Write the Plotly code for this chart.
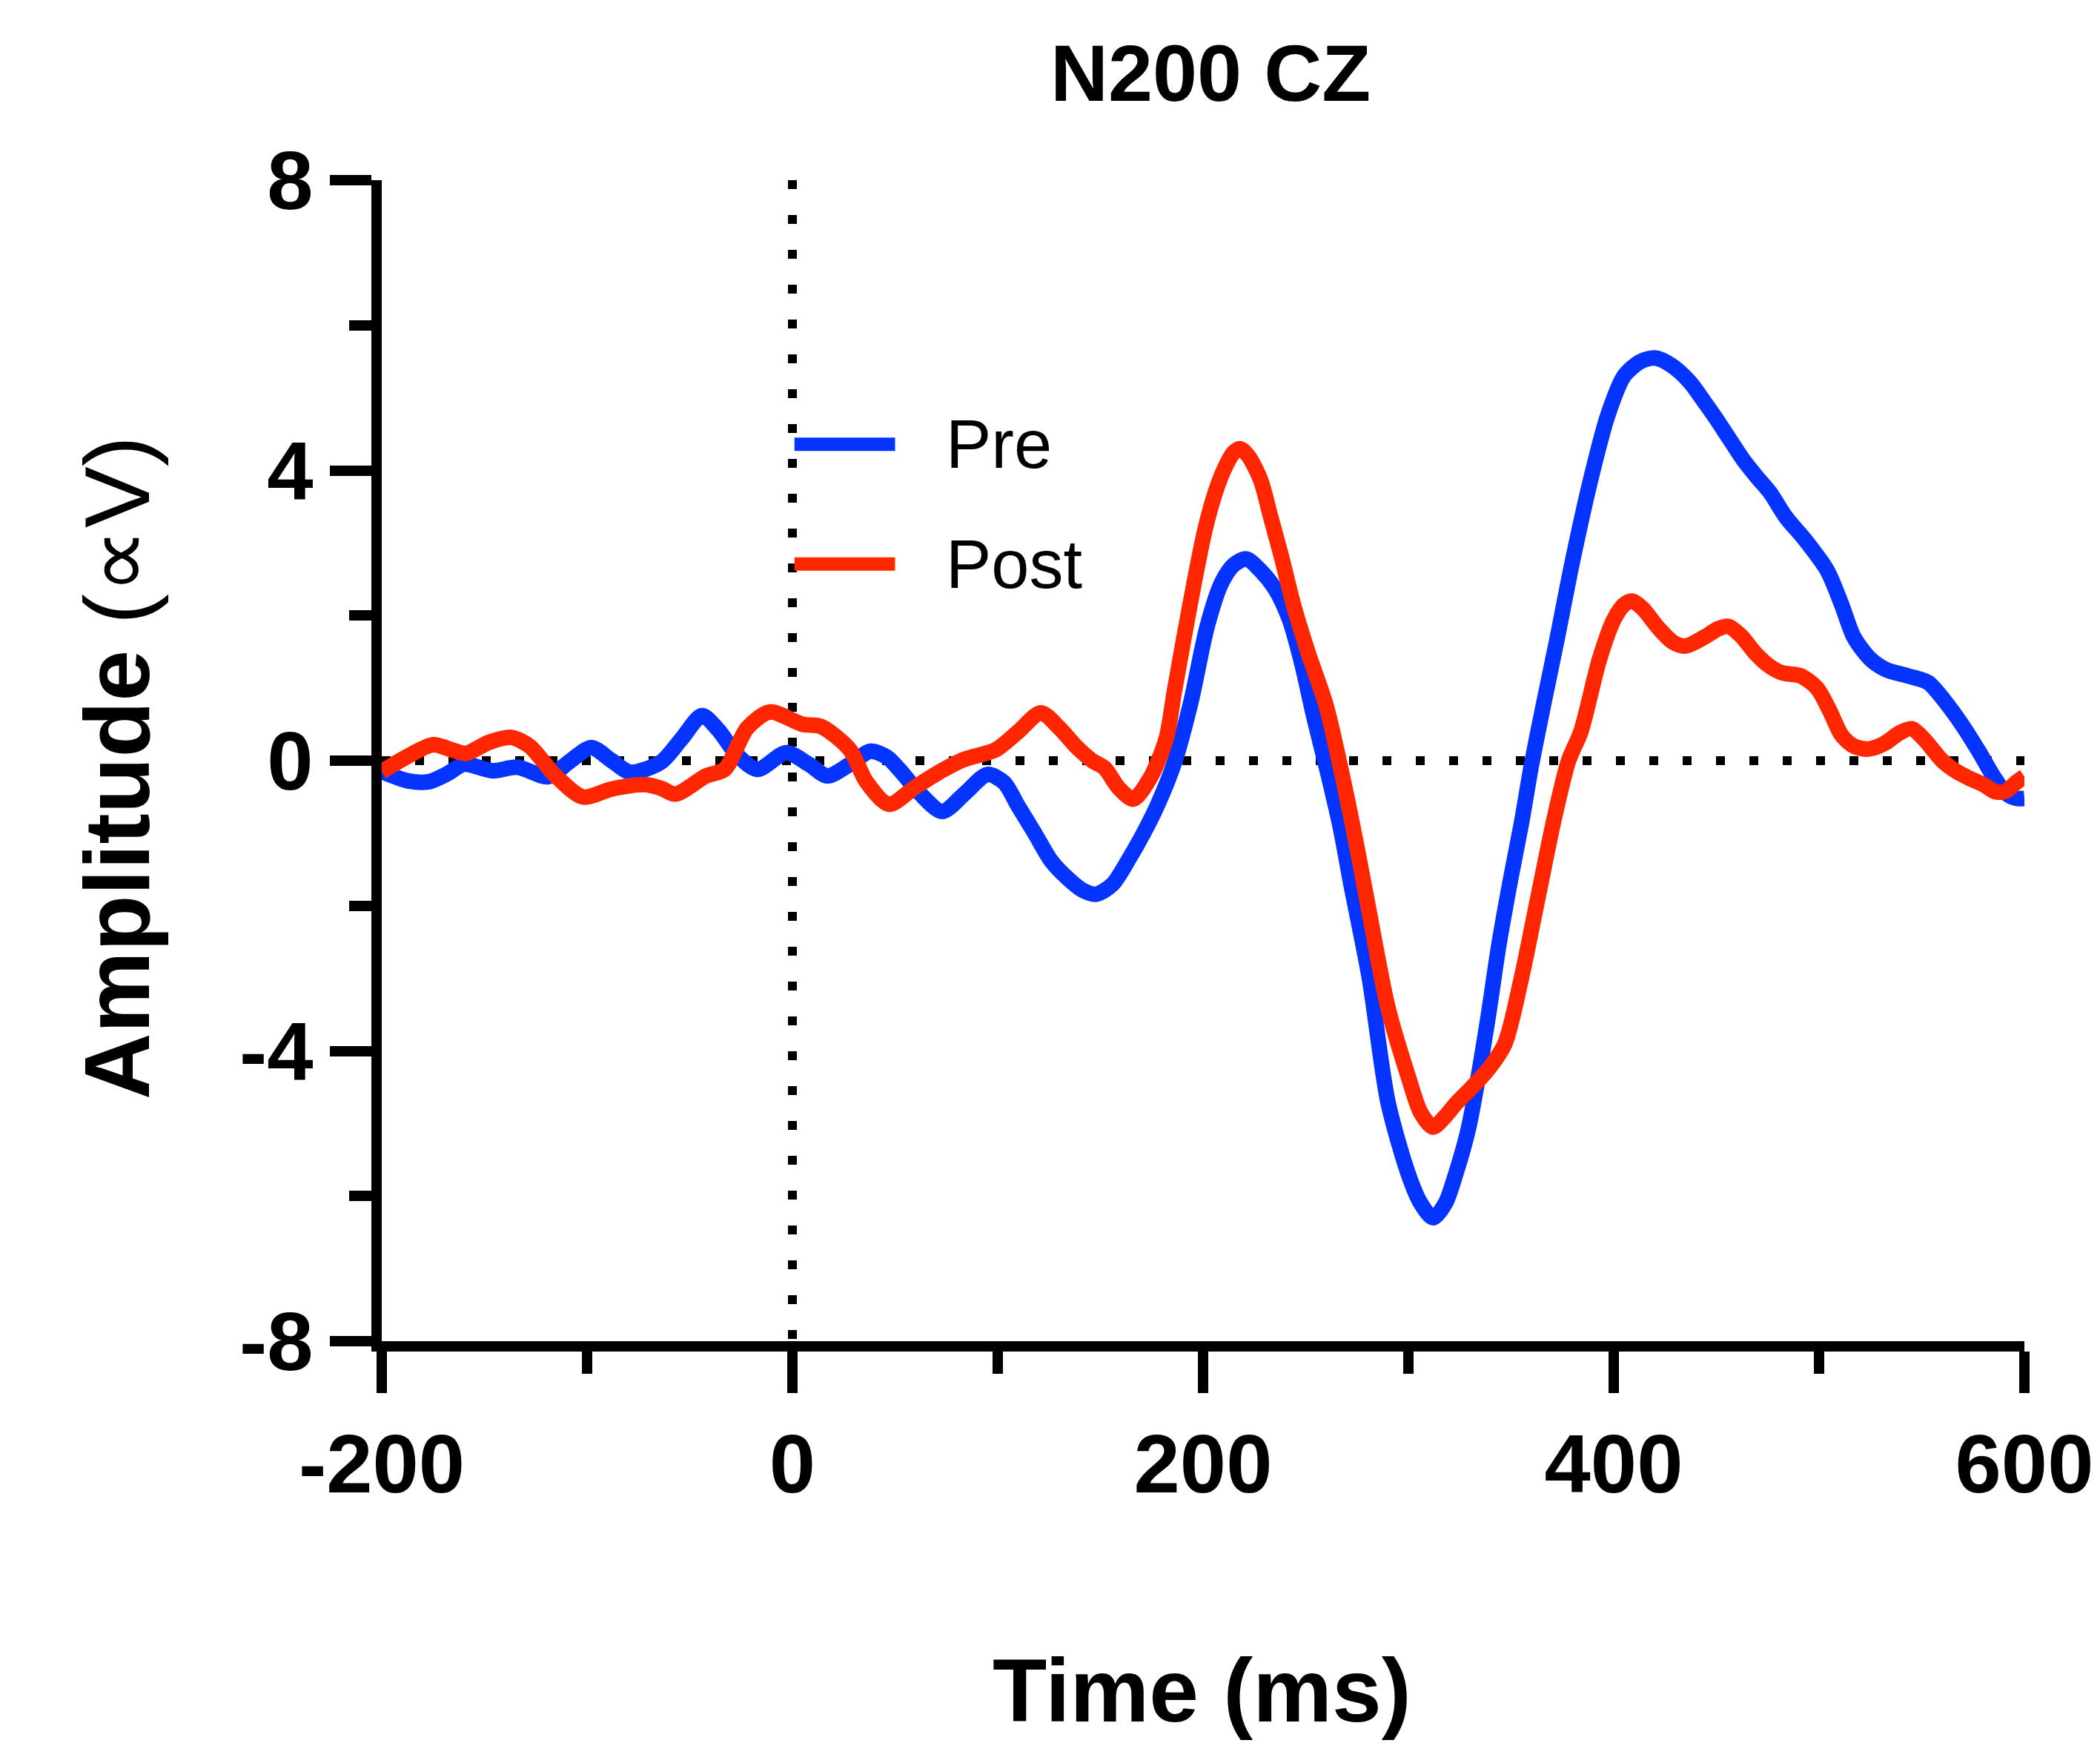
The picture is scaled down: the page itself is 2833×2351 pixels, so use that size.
import plotly.graph_objects as go

# ---------------- data ----------------
pre_t = [-200, -187, -177, -168, -160, -146, -134, -119, -108, -98, -88, -79, -64, -54, -44,
         -36, -27, -17, -3, 8, 17, 28, 38, 46, 52, 62, 73, 84, 95, 103, 110, 118, 126, 134,
         141, 148, 156, 164, 171, 178, 186, 194, 202, 209, 215, 221, 228, 235, 242, 248, 254,
         261, 267, 272, 281, 290, 300, 306, 312, 318, 323, 329, 334, 339, 344, 350, 355, 360,
         366, 372, 380, 389, 397, 405, 413, 420, 428, 437, 444, 449, 456, 463, 470, 476, 484,
         493, 504, 511, 517, 525, 533, 543, 553, 561, 570, 578, 585, 591, 596, 600]
pre_v = [-0.15, -0.28, -0.29, -0.18, -0.05, -0.14, -0.09, -0.22, 0.0, 0.18, 0.0, -0.16, -0.02,
         0.3, 0.62, 0.42, 0.08, -0.12, 0.11, -0.05, -0.21, -0.05, 0.13, 0.05, -0.12, -0.45,
         -0.7, -0.45, -0.19, -0.3, -0.63, -1.0, -1.38, -1.62, -1.78, -1.84, -1.7, -1.35, -1.0,
         -0.6, -0.03, 0.8, 1.85, 2.45, 2.7, 2.78, 2.62, 2.37, 1.95, 1.35, 0.6, -0.2, -0.94, -1.7,
         -3.0, -4.7, -5.7, -6.1, -6.3, -6.1, -5.7, -5.1, -4.36, -3.5, -2.55, -1.6, -0.87, -0.05,
         0.8, 1.62, 2.76, 3.9, 4.75, 5.3, 5.5, 5.55, 5.45, 5.22, 4.95, 4.75, 4.45, 4.15, 3.9,
         3.7, 3.35, 3.05, 2.62, 2.15, 1.7, 1.4, 1.25, 1.17, 1.08, 0.83, 0.48, 0.12, -0.22,
         -0.45, -0.52, -0.52]

post_t = [-200, -188, -175, -166, -159, -148, -137, -128, -116, -102, -88, -72, -64, -57, -42,
          -33, -22, -11, 5, 14, 28, 36, 47, 60, 72, 83, 99, 110, 121, 130, 138, 146, 152, 159,
          166, 174, 182, 186, 191, 196, 201, 206, 211, 215, 218, 222, 228, 233, 238, 244, 251,
          260, 270, 276, 281, 290, 300, 306, 312, 318, 323, 331, 339, 347, 355, 363, 371,
          378, 384, 393, 400, 405, 409, 414, 422, 429, 435, 444, 451, 456, 462, 469, 476, 482,
          491, 499, 505, 511, 517, 524, 532, 539, 545, 551, 560, 567, 573, 580, 586, 591, 596, 600]
post_v = [-0.15, 0.05, 0.22, 0.15, 0.1, 0.25, 0.32, 0.2, -0.19, -0.5, -0.39, -0.33, -0.38, -0.46,
          -0.21, -0.12, 0.45, 0.67, 0.5, 0.47, 0.15, -0.29, -0.6, -0.36, -0.15, 0.01, 0.15, 0.4,
          0.66, 0.45, 0.2, 0.0, -0.1, -0.38, -0.53, -0.25, 0.3, 0.95, 1.74, 2.5, 3.19, 3.7, 4.06,
          4.25, 4.3, 4.2, 3.87, 3.35, 2.83, 2.15, 1.5, 0.75, -0.5, -1.35, -2.1, -3.4,
          -4.36, -4.85, -5.05, -4.9, -4.73, -4.5, -4.25, -3.9, -3.0, -1.9, -0.8, 0.0, 0.4, 1.39,
          1.94, 2.15, 2.2, 2.1, 1.82, 1.63, 1.58, 1.7, 1.82, 1.85, 1.72, 1.48, 1.3, 1.21, 1.17,
          1.0, 0.7, 0.35, 0.2, 0.16, 0.24, 0.38, 0.44, 0.3, 0.0, -0.15, -0.24, -0.33, -0.43,
          -0.42, -0.3, -0.22]

series_names = ["Pre", "Post"]
series_colors = ["#0533FF", "#FF2600"]

x_tickvals = [-200, 0, 200, 400, 600]
x_ticktext = ["-200", "0", "200", "400", "600"]
x_minor = [-100, 100, 300, 500]
y_tickvals = [-8, -4, 0, 4, 8]
y_ticktext = ["-8", "-4", "0", "4", "8"]
y_minor = [-6, -2, 2, 6]

title_text = "N200 CZ"
x_title = "Time (ms)"
y_title = "<b>Amplitude </b>(∝V)"

# ---------------- figure ----------------
# the page body has an 8px margin, so the figure is laid out 8px smaller
OFF = 8
W, H = 2833 - OFF, 2351 - OFF
L, R, T, B = 507, 102, 235, 542
FONT = "Liberation Sans, Arial, sans-serif"

fig = go.Figure()
for t, v, name, col in [(pre_t, pre_v, series_names[0], series_colors[0]),
                        (post_t, post_v, series_names[1], series_colors[1])]:
    fig.add_trace(go.Scatter(x=t, y=v, mode="lines", name=name,
                             line=dict(color=col, width=21, shape="spline", smoothing=0.8),
                             showlegend=False))

# dotted reference lines
fig.add_shape(type="line", xref="x", yref="y", x0=-200, x1=600, y0=0, y1=0,
              line=dict(color="black", width=12, dash="12px,33px"), layer="below")
fig.add_shape(type="line", xref="x", yref="y", x0=0, x1=0, y0=8, y1=-8,
              line=dict(color="black", width=12, dash="12px,35px"), layer="below")

# custom legend (long line samples like the reference)
leg_y = [4.36, 2.71]
for yy, name, col in zip(leg_y, series_names, series_colors):
    fig.add_shape(type="line", xref="x", yref="y", x0=1, x1=50, y0=yy, y1=yy,
                  line=dict(color=col, width=18))
    fig.add_annotation(x=74, y=yy, xref="x", yref="y", text=name, showarrow=False,
                       xanchor="left", yanchor="middle",
                       font=dict(family=FONT, size=92, color="black"))

axis_common = dict(showline=True, linewidth=14, linecolor="black", mirror=False,
                   ticks="outside", ticklen=56, tickwidth=14, tickcolor="black",
                   showgrid=False, zeroline=False,
                   tickfont=dict(family=FONT, size=112, color="black", weight="bold"))

fig.update_xaxes(range=[-200, 600], tickmode="array", tickvals=x_tickvals, ticktext=x_ticktext,
                 minor=dict(tickmode="array", tickvals=x_minor, ticks="outside", ticklen=30,
                            tickwidth=14, tickcolor="black", showgrid=False),
                 **axis_common)
fig.update_yaxes(range=[-8, 8], tickmode="array", tickvals=y_tickvals, ticktext=y_ticktext,
                 minor=dict(tickmode="array", tickvals=y_minor, ticks="outside", ticklen=30,
                            tickwidth=14, tickcolor="black", showgrid=False),
                 **axis_common)

pw, ph = W - L - R, H - T - B
def px(xfig):
    return (xfig - L) / pw
def py(yfig):
    return ((T + ph) - yfig) / ph

fig.add_annotation(xref="paper", yref="paper", x=px(1625), y=py(91),
                   text=f"<b>{title_text}</b>", showarrow=False, xanchor="center", yanchor="middle",
                   font=dict(family=FONT, size=108, color="black"))
fig.add_annotation(xref="paper", yref="paper", x=px(1613), y=py(2272),
                   text=f"<b>{x_title}</b>", showarrow=False, xanchor="center", yanchor="middle",
                   font=dict(family=FONT, size=120, color="black"))
fig.add_annotation(xref="paper", yref="paper", x=px(150), y=py(1027),
                   text=y_title, showarrow=False, xanchor="center", yanchor="middle", textangle=-90,
                   font=dict(family=FONT, size=124, color="black"))

fig.update_layout(width=W, height=H, margin=dict(l=L, r=R, t=T, b=B, autoexpand=False),
                  paper_bgcolor="white", plot_bgcolor="white", showlegend=False)

fig.write_html("out.html")
